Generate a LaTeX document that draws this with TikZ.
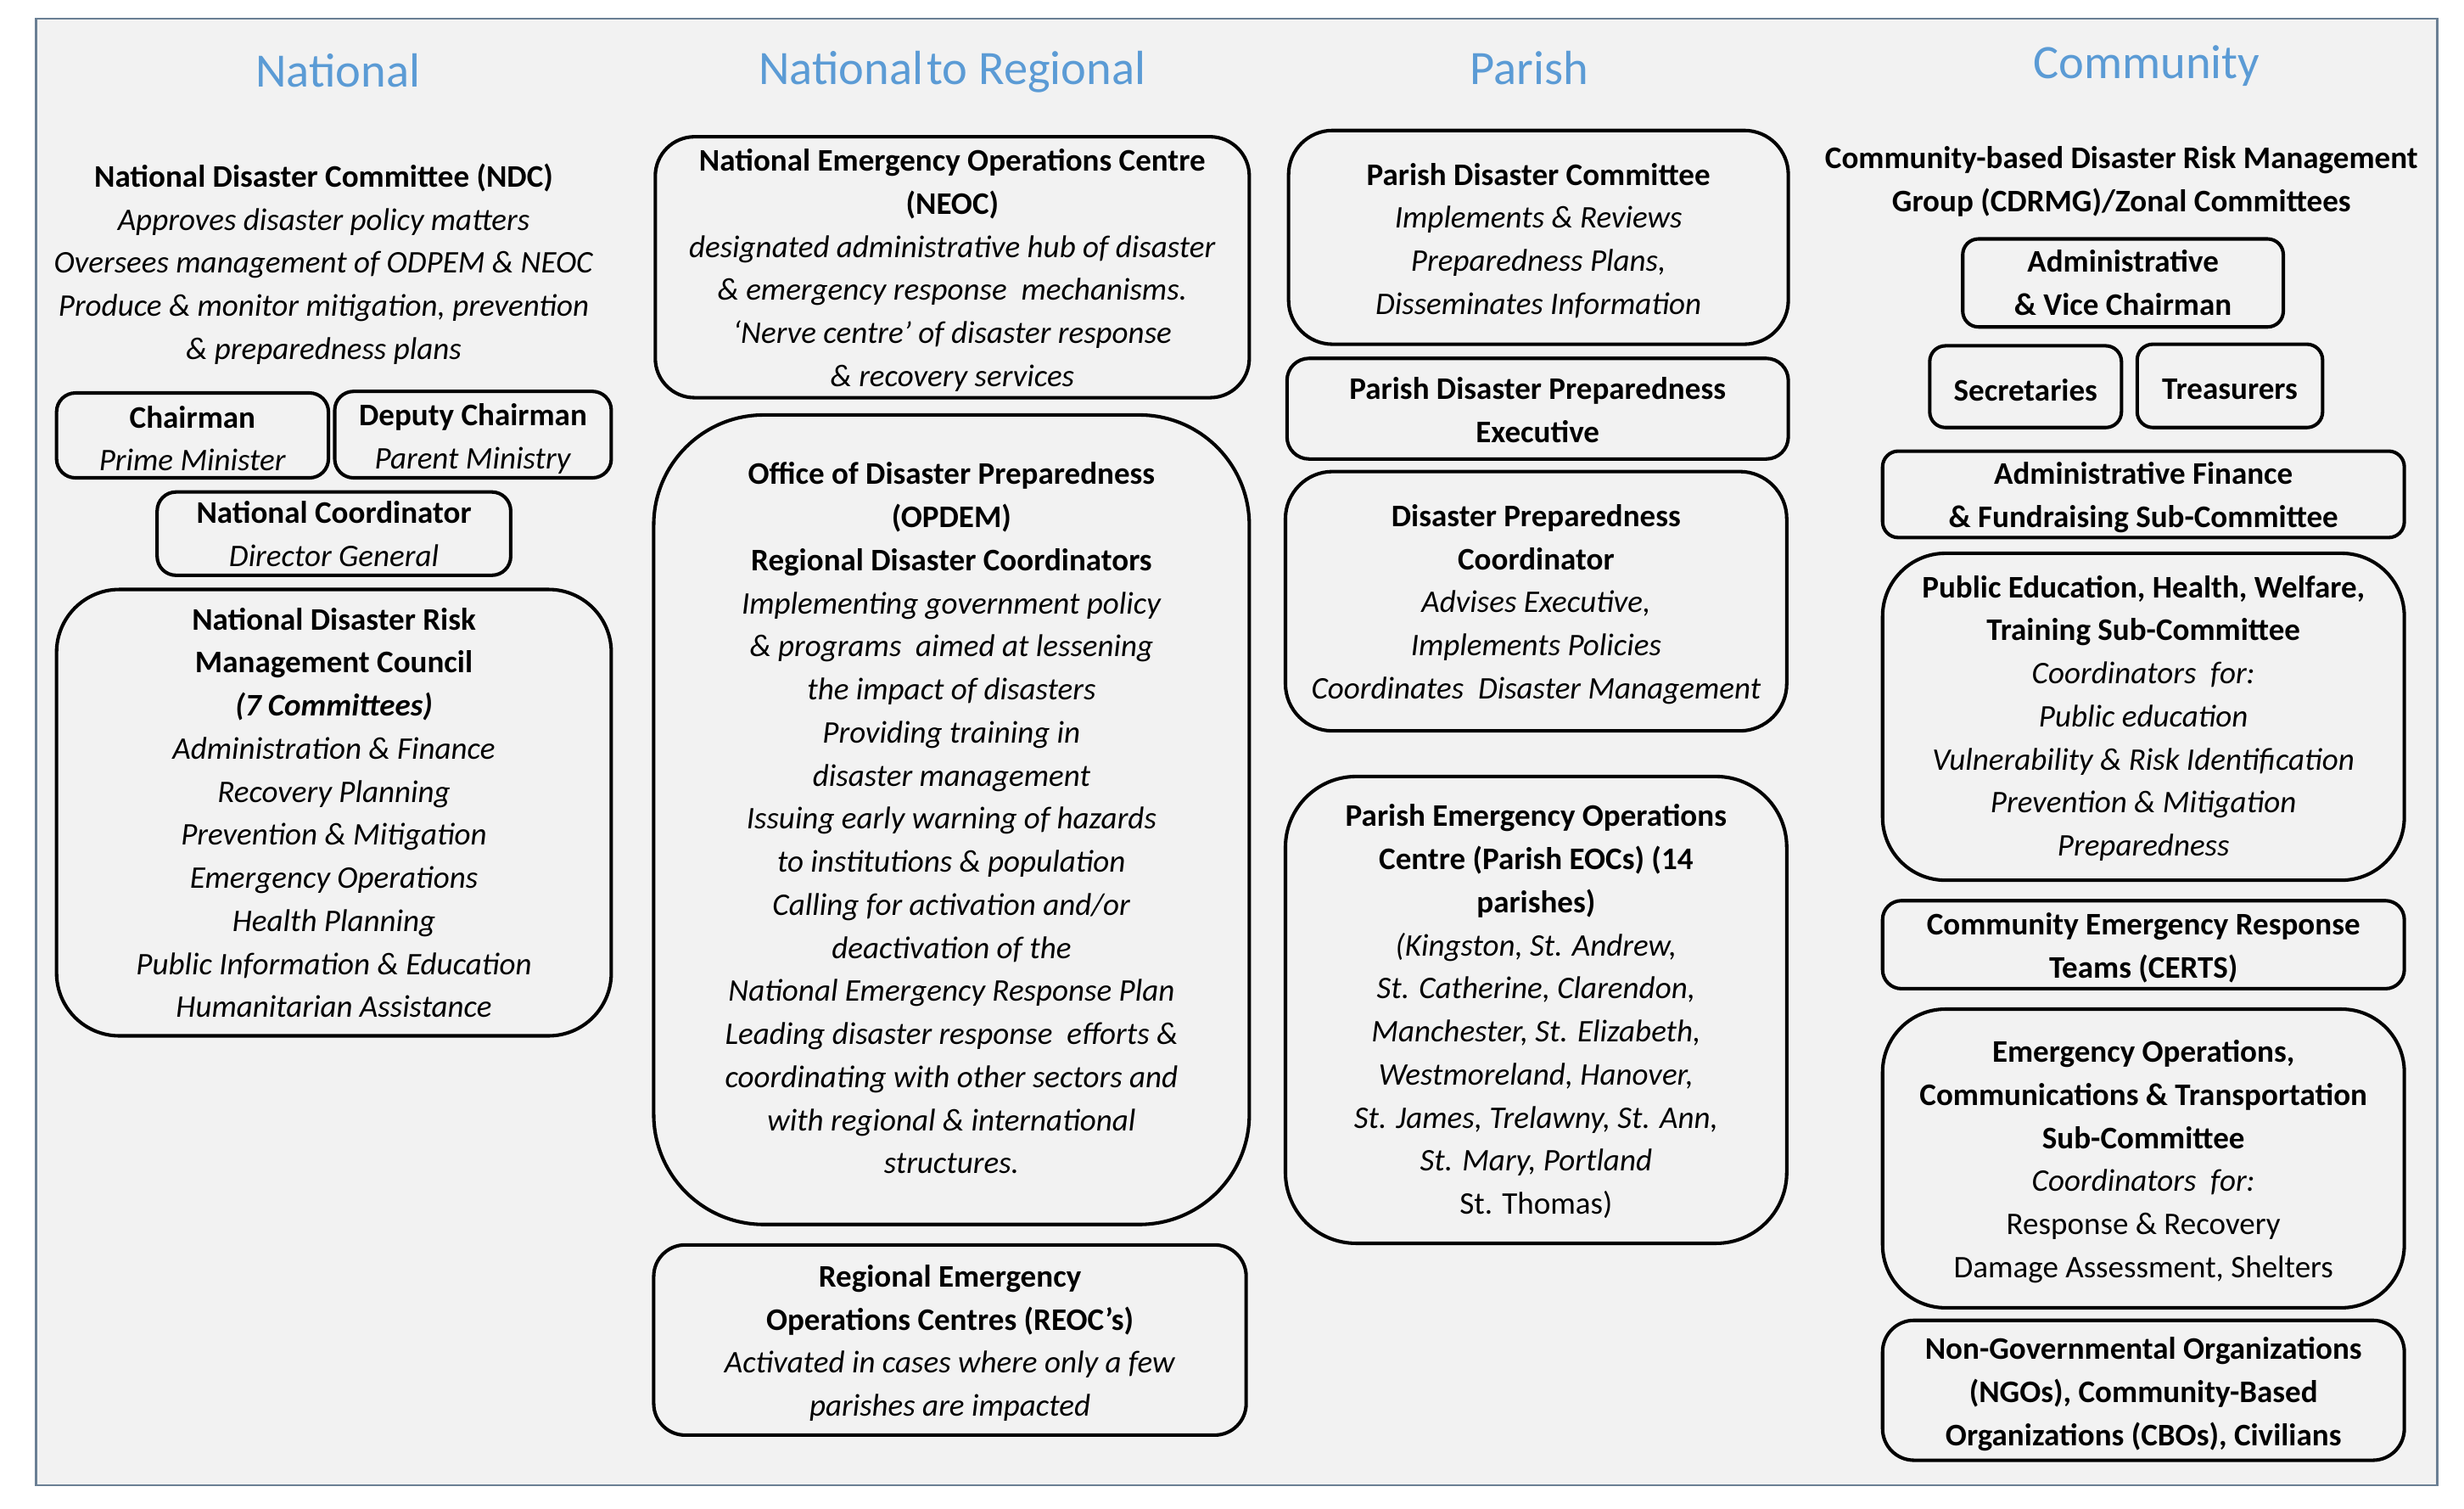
\documentclass[tikz,border=0pt]{standalone}
\usepackage{fontspec}
\setmainfont{Carlito}
\definecolor{bgc}{HTML}{F2F2F2}
\definecolor{framec}{HTML}{6A7F94}
\definecolor{titlec}{HTML}{5B9BD5}
\tikzset{
  bx/.style={draw=black, line width=2.2pt, fill=bgc, inner sep=0pt},
  txt/.style={align=center, inner sep=0pt, font=\fontsize{20}{27.4}\selectfont},
  ttl/.style={text=titlec, inner sep=0pt, font=\fontsize{30.5}{32}\selectfont}
}
% name, cx, cy, width, height, radius, text shift down, text
\newcommand\mybox[8]{%
  \node[bx, rounded corners=#6pt, minimum width=#4pt, minimum height=#5pt] (#1) at (#2,#3) {};
  \node[txt] (#1t) at ([yshift=-#7pt]#1.center) {#8};}
\begin{document}
\begin{tikzpicture}[x=1pt,y=-1pt]
\useasboundingbox (0,0) rectangle (1568,960);
\fill[white] (0,0) rectangle (1568,960);
\node[draw=framec, line width=1.2pt, fill=bgc, minimum width=1528pt, minimum height=933pt, inner sep=0pt] (frame) at (787,478.5) {};

% titles
\node[ttl] (t1) at (215,45) {National};
\node[ttl] (t2) at (606,46) {National\kern-0.15em\ to Regional};
\node[ttl] (t3) at (973,43) {Parish};
\node[ttl] (t4) at (1366,42) {Community};

% National column
\node[txt] (ndc) at (206,168) {\textbf{National Disaster Committee (NDC)}\\
\textit{Approves disaster policy matters}\\
\textit{Oversees management of ODPEM \& NEOC}\\
\textit{Produce \& monitor mitigation, prevention}\\
\textit{\& preparedness plans}};
\mybox{chair}{122.5}{277}{173}{54}{12}{2}{\textbf{Chairman}\\ \textit{Prime Minister}}
\mybox{deputy}{301}{276.5}{176}{55}{12}{2.5}{\textbf{Deputy Chairman}\\ \textit{Parent Ministry}}
\mybox{natcoord}{212.5}{339.5}{225}{53}{12}{0}{\textbf{National Coordinator}\\ \textit{Director General}}
\mybox{ndrmc}{212.5}{517}{353}{284}{40}{0}{\textbf{National Disaster Risk}\\
\textbf{Management Council}\\
\textbf{\textit{(7 Committees)}}\\
\textit{Administration \& Finance}\\
\textit{Recovery Planning}\\
\textit{Prevention \& Mitigation}\\
\textit{Emergency Operations}\\
\textit{Health Planning}\\
\textit{Public Information \& Education}\\
\textit{Humanitarian Assistance}}

% National to Regional column
\mybox{neoc}{606}{170}{378}{166}{25}{2}{\textbf{National Emergency Operations Centre}\\
\textbf{(NEOC)}\\
\textit{designated administrative hub of disaster}\\
\textit{\& emergency response\ \ mechanisms.}\\
\textit{‘Nerve centre’ of disaster response}\\
\textit{\& recovery services}}
\mybox{opdem}{605.5}{521.5}{379}{515}{70}{-1}{\textbf{Office of Disaster Preparedness}\\
\textbf{(OPDEM)}\\
\textbf{Regional Disaster Coordinators}\\
\textit{Implementing government policy}\\
\textit{\& programs\ \ aimed at lessening}\\
\textit{the impact of disasters}\\
\textit{Providing training in}\\
\textit{disaster management}\\
\textit{Issuing early warning of hazards}\\
\textit{to institutions \& population}\\
\textit{Calling for activation and/or}\\
\textit{deactivation of the}\\
\textit{National Emergency Response Plan}\\
\textit{Leading disaster response\ \ efforts \&}\\
\textit{coordinating with other sectors and}\\
\textit{with regional \& international}\\
\textit{structures.}}
\mybox{reoc}{604.5}{852.5}{377}{121}{20}{2}{\textbf{Regional Emergency}\\
\textbf{Operations Centres (REOC’s)}\\
\textit{Activated in cases where only a few}\\
\textit{parishes are impacted}}

% Parish column
\mybox{pdc}{979}{151}{318}{136}{28}{2}{\textbf{Parish Disaster Committee}\\
\textit{Implements \& Reviews}\\
\textit{Preparedness Plans,}\\
\textit{Disseminates Information}}
\mybox{pdpe}{978.5}{260}{319}{64}{14}{1}{\textbf{Parish Disaster Preparedness}\\
\textbf{Executive}}
\mybox{dpc}{977.5}{382.5}{319}{165}{30}{2}{\textbf{Disaster Preparedness}\\
\textbf{Coordinator}\\
\textit{Advises Executive,}\\
\textit{Implements Policies}\\
\textit{Coordinates\ \ Disaster Management}}
\mybox{peoc}{977.5}{642.5}{319}{297}{45}{1}{\textbf{Parish Emergency Operations}\\
\textbf{Centre (Parish EOCs) (14}\\
\textbf{parishes)}\\
\textit{(Kingston, St. Andrew,}\\
\textit{St. Catherine, Clarendon,}\\
\textit{Manchester, St. Elizabeth,}\\
\textit{Westmoreland, Hanover,}\\
\textit{St. James, Trelawny, St. Ann,}\\
\textit{St. Mary, Portland}\\
St. Thomas)}

% Community column
\node[txt] (cdrmg) at (1350,115.5) {\textbf{Community-based Disaster Risk Management}\\
\textbf{Group (CDRMG)/Zonal Committees}};
\mybox{avc}{1351}{180}{204}{56}{10}{0}{\textbf{Administrative}\\ \textbf{\& Vice Chairman}}
\mybox{sec}{1289}{246}{122}{52}{10}{2}{\textbf{Secretaries}}
\mybox{tre}{1419}{245.5}{118}{53}{10}{2}{\textbf{Treasurers}}
\mybox{af}{1364}{314.5}{332}{55}{10}{2}{\textbf{Administrative Finance}\\ \textbf{\& Fundraising Sub-Committee}}
\mybox{pe}{1364}{456}{332}{208}{40}{1}{\textbf{Public Education, Health, Welfare,}\\
\textbf{Training Sub-Committee}\\
\textit{Coordinators\ \ for:}\\
\textit{Public education}\\
\textit{Vulnerability \& Risk Identification}\\
\textit{Prevention \& Mitigation}\\
\textit{Preparedness}}
\mybox{certs}{1364}{601}{332}{56}{12}{2}{\textbf{Community Emergency Response}\\ \textbf{Teams (CERTS)}}
\mybox{eo}{1364}{737}{332}{190}{40}{2}{\textbf{Emergency Operations,}\\
\textbf{Communications \& Transportation}\\
\textbf{Sub-Committee}\\
\textit{Coordinators\ \ for:}\\
Response \& Recovery\\
Damage Assessment, Shelters}
\mybox{ngo}{1364}{884.5}{332}{89}{20}{2.5}{\textbf{Non-Governmental Organizations}\\
\textbf{(NGOs), Community-Based}\\
\textbf{Organizations (CBOs), Civilians}}
\end{tikzpicture}
\end{document}
